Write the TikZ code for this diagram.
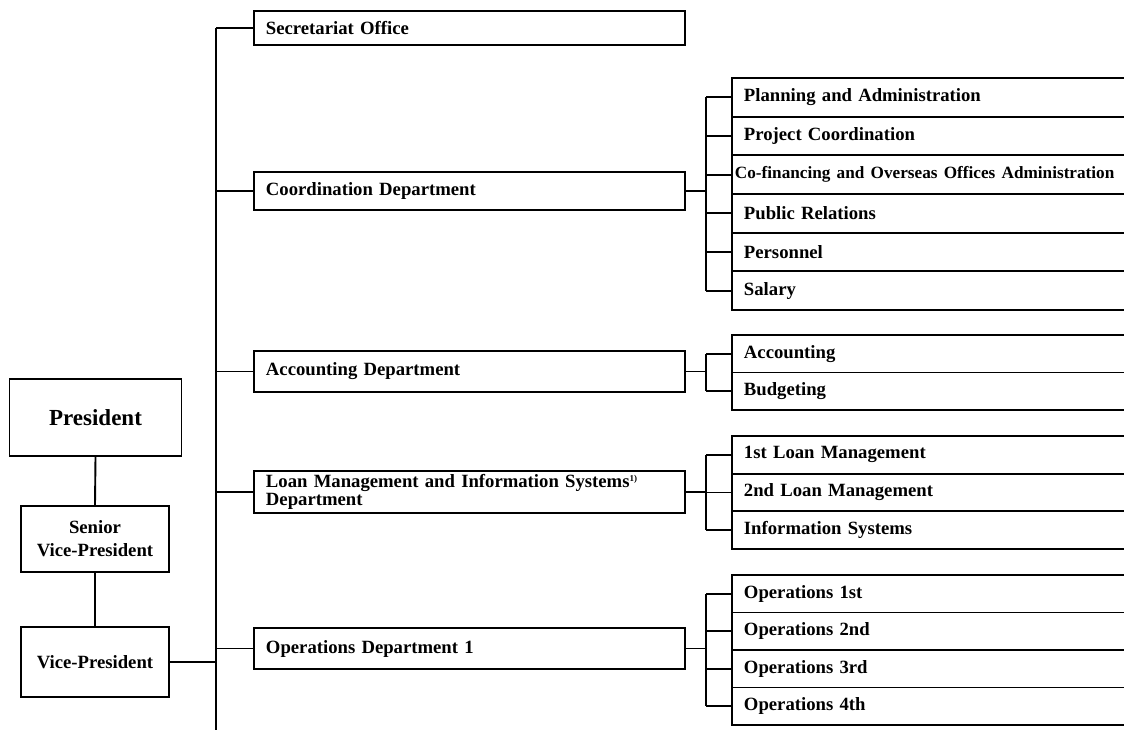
\documentclass[tikz,border=0pt]{standalone}
\usepackage{fontspec}
\setmainfont{Liberation Serif}[WordSpace=2.2]
\newfontfamily\tightfont{Liberation Serif}
\begin{document}
\begin{tikzpicture}[x=1pt,y=-1pt,
  box/.style={draw, line width=1.9pt, fill=white, inner sep=0pt},
  dept/.style={box, anchor=west, text width=407pt, inner xsep=12pt, align=left,
     minimum height=#1, font=\fontsize{18.7}{18}\selectfont\bfseries},
  sub/.style={box, anchor=west, text width=400pt, inner xsep=12pt, align=left,
     minimum height=#1, font=\fontsize{18.7}{18}\selectfont\bfseries},
  head/.style={box, minimum width=148pt, minimum height=#1, align=center,
     font=\fontsize{18.7}{23}\selectfont\bfseries},
  conn/.style={line width=1.9pt}]
\useasboundingbox (0,0) rectangle (1124,730);
\clip (0,0) rectangle (1124,730);
\fill[white] (0,0) rectangle (1124,730);

% left column
\node[box, minimum width=172pt, minimum height=77pt, font=\fontsize{23}{24}\selectfont\bfseries] (pres) at (95.5,417.5) {President};
\node[head=66pt] (svp) at (95,539) {Senior\\Vice-President};
\node[head=70pt] (vp) at (95,662) {Vice-President};
\draw[conn] (pres.south) -- (svp.north);
\draw[conn] (svp.south) -- (vp.north);

% departments
\node[dept=34pt] (sec) at (253,28) {Secretariat Office};
\node[dept=38pt] (coord) at (253,191) {Coordination Department};
\node[dept=41pt] (acct) at (253,371.5) {Accounting Department};
\node[dept=42pt] (loan) at (253,492) {Loan Management and Information Systems\textsuperscript{\fontsize{9}{9}\selectfont 1)}\\Department};
\node[dept=41pt] (ops) at (253,648.5) {Operations Department 1};

% trunk
\coordinate (trunk) at (216,0);
\coordinate (tbot) at (216,730);
\draw[conn] (sec.west -| trunk) -- (tbot);
\draw[conn] (vp.east) -- (vp.east -| trunk);
\foreach \d in {sec,coord,acct,loan,ops}
  \draw[conn] (\d.west -| trunk) -- (\d.west);

% sub units
\coordinate (br) at (706,0);
\node[sub=38.67pt] (c1) at (731,97.3) {Planning and Administration};
\node[sub=38.67pt] (c2) at (731,136.0) {Project Coordination};
\node[sub=38.67pt] (c3) at (731,174.7) {\hspace*{-9pt}\tightfont\fontsize{17.2}{18}\selectfont Co-financing and Overseas Offices Administration};
\node[sub=38.67pt] (c4) at (731,213.3) {Public Relations};
\node[sub=38.67pt] (c5) at (731,252.0) {Personnel};
\node[sub=38.67pt] (c6) at (731,290.7) {Salary};

\node[sub=37.5pt] (a1) at (731,353.75) {Accounting};
\node[sub=37.5pt] (a2) at (731,391.25) {Budgeting};

\node[sub=37.67pt] (l1) at (731,454.8) {1st Loan Management};
\node[sub=37.67pt] (l2) at (731,492.5) {2nd Loan Management};
\node[sub=37.67pt] (l3) at (731,530.2) {Information Systems};

\node[sub=37.5pt] (o1) at (731,593.75) {Operations 1st};
\node[sub=37.5pt] (o2) at (731,631.25) {Operations 2nd};
\node[sub=37.5pt] (o3) at (731,668.75) {Operations 3rd};
\node[sub=37.5pt] (o4) at (731,706.25) {Operations 4th};

% brackets
\draw[conn] (coord.east) -- (coord.east -| br);
\draw[conn] (c1.west -| br) -- (c6.west -| br);
\foreach \r in {c1,c2,c3,c4,c5,c6} \draw[conn] (\r.west -| br) -- (\r.west);

\draw[conn] (acct.east) -- (acct.east -| br);
\draw[conn] (a1.west -| br) -- (a2.west -| br);
\foreach \r in {a1,a2} \draw[conn] (\r.west -| br) -- (\r.west);

\draw[conn] (loan.east) -- (loan.east -| br);
\draw[conn] (l1.west -| br) -- (l3.west -| br);
\foreach \r in {l1,l2,l3} \draw[conn] (\r.west -| br) -- (\r.west);

\draw[conn] (ops.east) -- (ops.east -| br);
\draw[conn] (o1.west -| br) -- (o4.west -| br);
\foreach \r in {o1,o2,o3,o4} \draw[conn] (\r.west -| br) -- (\r.west);
\end{tikzpicture}
\end{document}
